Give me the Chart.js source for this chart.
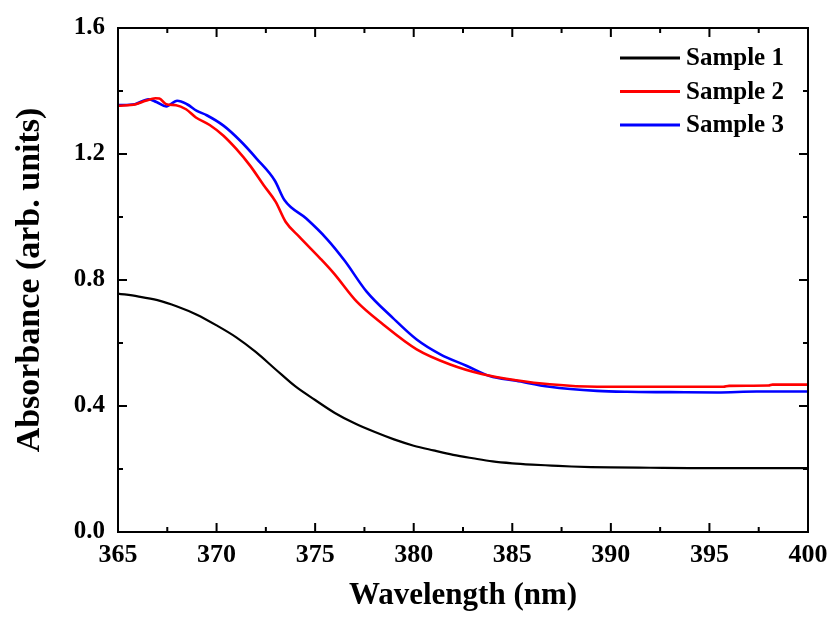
<!DOCTYPE html>
<html>
<head>
<meta charset="utf-8">
<script src="https://cdn.jsdelivr.net/npm/chart.js@4/dist/chart.umd.min.js"></script>
<style>
html,body{margin:0;padding:0;background:#fff;}
#wrap{width:836px;height:617px;position:relative;}
</style>
</head>
<body>
<div id="wrap"><canvas id="c" width="836" height="617"></canvas></div>
<script>
// ---- data ----
const seriesNames = ['Sample 1', 'Sample 2', 'Sample 3'];
const seriesColors = ['#000000', '#ff0000', '#0000ff'];

const wl1 = [365, 366, 367, 368, 369, 370, 371, 372, 373, 374, 375, 376, 377, 378, 379, 380, 381, 382, 383, 384, 385, 386, 387, 388, 389, 390, 392, 394, 396, 398, 400];
const abs1 = [0.757, 0.748, 0.736, 0.716, 0.690, 0.656, 0.618, 0.571, 0.516, 0.462, 0.419, 0.378, 0.345, 0.318, 0.294, 0.274, 0.259, 0.245, 0.234, 0.224, 0.218, 0.214, 0.211, 0.208, 0.206, 0.205, 0.204, 0.203, 0.203, 0.203, 0.203];

const wl2 = [365, 365.9, 366.4, 366.9, 367.1, 367.45, 367.95, 368.45, 368.95, 369.65, 370.35, 371.0, 371.7, 372.4, 373.0, 373.5, 374.2, 375.25, 375.95, 377.1, 378.45, 380.15, 381.85, 383.5, 385.2, 386.9, 389.3, 392, 395.7, 396, 398, 398.2, 400];
const abs2 = [1.353, 1.358, 1.369, 1.377, 1.376, 1.358, 1.355, 1.342, 1.316, 1.292, 1.258, 1.216, 1.163, 1.100, 1.048, 0.985, 0.937, 0.869, 0.821, 0.732, 0.659, 0.580, 0.532, 0.501, 0.482, 0.469, 0.461, 0.461, 0.461, 0.464, 0.465, 0.468, 0.468];

const wl3 = [365, 365.85, 366.55, 366.95, 367.45, 368.0, 368.5, 369.0, 369.5, 370.35, 371.2, 372.05, 372.95, 373.45, 374.55, 375.6, 376.5, 377.6, 378.95, 380.15, 381.35, 382.7, 383.85, 385.2, 386.9, 389.3, 390.8, 393, 395.4, 397.4, 400];
const abs3 = [1.355, 1.358, 1.374, 1.365, 1.351, 1.369, 1.358, 1.337, 1.323, 1.290, 1.242, 1.184, 1.116, 1.053, 0.995, 0.930, 0.861, 0.764, 0.679, 0.611, 0.564, 0.527, 0.495, 0.480, 0.461, 0.448, 0.445, 0.444, 0.443, 0.446, 0.446];

const xMajorTicks = [365, 370, 375, 380, 385, 390, 395, 400];
const xMinorTicks = [367.5, 372.5, 377.5, 382.5, 387.5, 392.5, 397.5];
const yMajorTicks = [0, 0.4, 0.8, 1.2, 1.6];
const yMinorTicks = [0.2, 0.6, 1.0, 1.4];

const xTitle = 'Wavelength (nm)';
const yTitle = 'Absorbance (arb. units)';

// ---- build datasets ----
function pts(xs, ys){ return xs.map((v,i)=>({x:v, y:ys[i]})); }
const wls = [wl1, wl2, wl3];
const abss = [abs1, abs2, abs3];
const widths = [2.2, 2.6, 2.6];
const datasets = seriesNames.map((n,i)=>({
  label: n,
  data: pts(wls[i], abss[i]),
  borderColor: seriesColors[i],
  backgroundColor: seriesColors[i],
  borderWidth: widths[i],
  pointRadius: 0,
  fill: false,
  cubicInterpolationMode: 'monotone'
}));

const SERIF = '"Liberation Serif", "Times New Roman", serif';

const framePlugin = {
  id: 'frame',
  afterDatasetsDraw(chart){
    const {ctx, chartArea:{left,right,top,bottom}, scales:{x,y}} = chart;
    ctx.save();
    ctx.strokeStyle = '#000';
    ctx.lineWidth = 2;
    ctx.strokeRect(left, top, right-left, bottom-top);
    ctx.beginPath();
    const seg=(a,b,c,d)=>{ctx.moveTo(a,b);ctx.lineTo(c,d);};
    xMajorTicks.forEach(v=>{const p=x.getPixelForValue(v); seg(p,bottom,p,bottom-9); seg(p,top,p,top+9);});
    xMinorTicks.forEach(v=>{const p=x.getPixelForValue(v); seg(p,bottom,p,bottom-5); seg(p,top,p,top+5);});
    yMajorTicks.forEach(v=>{const p=y.getPixelForValue(v); seg(left,p,left+9,p); seg(right,p,right-9,p);});
    yMinorTicks.forEach(v=>{const p=y.getPixelForValue(v); seg(left,p,left+5,p); seg(right,p,right-5,p);});
    ctx.stroke();
    ctx.restore();
  },
  afterDraw(chart){
    const ctx = chart.ctx;
    ctx.save();
    ctx.font = 'bold 25px ' + SERIF;
    ctx.textBaseline = 'middle';
    ctx.textAlign = 'left';
    const x0 = 620, x1 = 680, tx = 686;
    const rows = [58, 91.5, 125];
    chart.data.datasets.forEach((ds,i)=>{
      ctx.strokeStyle = ds.borderColor;
      ctx.lineWidth = 3;
      ctx.beginPath(); ctx.moveTo(x0, rows[i]); ctx.lineTo(x1, rows[i]); ctx.stroke();
      ctx.fillStyle = '#000';
      ctx.fillText(ds.label, tx, rows[i] + 1);
    });
    ctx.restore();
  }
};

new Chart(document.getElementById('c'), {
  type: 'line',
  data: { datasets },
  options: {
    responsive: false,
    animation: false,
    devicePixelRatio: 1,
    layout: { padding: { left: 0, top: 25, right: 28, bottom: 0 } },
    plugins: { legend: { display: false }, tooltip: { enabled: false } },
    scales: {
      x: {
        type: 'linear',
        min: 365, max: 400,
        afterFit(s){ s.height = 85; },
        afterBuildTicks(s){ s.ticks = xMajorTicks.map(v=>({value:v})); },
        grid: { display: false, drawTicks: false },
        border: { display: false },
        ticks: { color: '#000', padding: 8, maxRotation: 0, autoSkip: false,
                 font: { family: SERIF, size: 26, weight: 'bold' },
                 callback: v => String(v) },
        title: { display: true, text: xTitle, color: '#000',
                 font: { family: SERIF, size: 31, weight: 'bold' },
                 padding: { top: 0, bottom: 2 } }
      },
      y: {
        type: 'linear',
        min: 0, max: 1.6,
        afterFit(s){ s.width = 118; },
        afterBuildTicks(s){ s.ticks = yMajorTicks.map(v=>({value:v})); },
        grid: { display: false, drawTicks: false },
        border: { display: false },
        ticks: { color: '#000', padding: 13, autoSkip: false,
                 font: { family: SERIF, size: 25, weight: 'bold' },
                 callback: v => Number(v).toFixed(1) },
        title: { display: true, text: yTitle, color: '#000',
                 font: { family: SERIF, size: 34, weight: 'bold' },
                 padding: { top: 10, bottom: 0 } }
      }
    }
  },
  plugins: [framePlugin]
});
</script>
</body>
</html>
